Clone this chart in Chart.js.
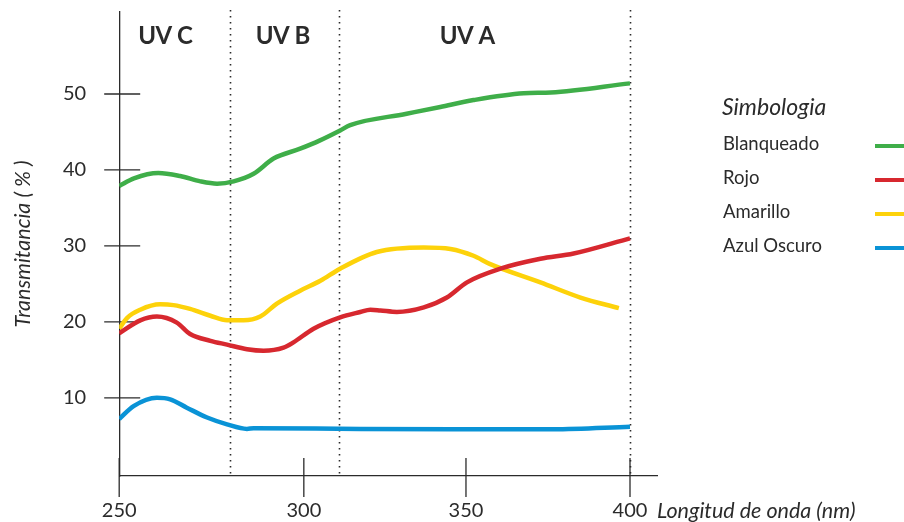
<!DOCTYPE html>
<html>
<head>
<meta charset="utf-8">
<script src="https://cdn.jsdelivr.net/npm/chart.js@4.4.1/dist/chart.umd.min.js"></script>
<style>
  html, body { margin: 0; padding: 0; background: #fff; }
</style>
</head>
<body>
<canvas id="chart" width="904" height="522"></canvas>
<script>
// axis ticks and UV bands (nm)
const xTicks = [250, 300, 350, 400];
const yTicks = [10, 20, 30, 40, 50];
const bandEdges = [280, 311, 400];
const bandNames = ['UV C', 'UV B', 'UV A'];
const bandLabelAt = [262.5, 294.3, 350.4];

// the printed axis is not evenly spaced: where each stop sits along it (0..1)
const xStops = [250, 300, 350, 400, 408.2];
const xStopFrac = [0, 0.3433, 0.6448, 0.9498, 1];

const blanqueadoNm = [250, 254, 260.6, 266.5, 272, 276.5, 281, 286.4, 291.8, 299, 305, 311.2, 314.3, 331.7, 342.1, 352.3, 367.6, 375.9, 400];
const blanqueadoPct = [37.9, 38.9, 39.6, 39.2, 38.5, 38.2, 38.5, 39.5, 41.5, 42.8, 43.9, 45.2, 45.9, 47.4, 48.3, 49.2, 50.1, 50.2, 51.4];

const rojoNm = [250, 255.7, 260.2, 265.6, 269.2, 274.7, 279.2, 284.6, 289.1, 294.5, 297.2, 303, 311.2, 317.4, 320.5, 323.6, 328.7, 337, 344.1, 350.3, 360.5, 372.7, 382.8, 400];
const rojoPct = [18.5, 20.2, 20.7, 19.9, 18.4, 17.5, 17.0, 16.4, 16.2, 16.6, 17.3, 19.1, 20.6, 21.3, 21.6, 21.5, 21.3, 21.9, 23.2, 25.2, 27.0, 28.3, 29.0, 31.0];

const amarilloNm = [250, 252.1, 255.7, 261.1, 264.7, 269.2, 274.7, 279.2, 283.7, 288.2, 292.7, 299, 305.1, 311.2, 322.5, 337, 345.2, 352.3, 357.4, 372.7, 384.9, 396.6];
const amarilloPct = [19.1, 20.5, 21.6, 22.3, 22.2, 21.7, 20.8, 20.2, 20.2, 20.7, 22.4, 24.1, 25.4, 27.0, 29.2, 29.8, 29.6, 28.7, 27.6, 25.2, 23.2, 21.8];

const azulNm = [250, 253.9, 260.2, 263.8, 268.3, 273.8, 279.2, 284.6, 286.4, 317.4, 346, 376.6, 400];
const azulPct = [7.2, 8.9, 10.0, 9.8, 8.7, 7.4, 6.5, 5.9, 6.0, 5.9, 5.87, 5.87, 6.2];

const FONT = 'Lato, "Open Sans", sans-serif';
const INK = '#2b2b2b';

class BentScale extends Chart.LinearScale {
  getPixelForValue(value) {
    if (value === null || value === undefined || isNaN(value)) return NaN;
    let i = 0;
    while (i < xStops.length - 2 && value > xStops[i + 1]) i++;
    const t = (value - xStops[i]) / (xStops[i + 1] - xStops[i]);
    return this.getPixelForDecimal(xStopFrac[i] + t * (xStopFrac[i + 1] - xStopFrac[i]));
  }
  getValueForPixel(pixel) {
    const f = this.getDecimalForPixel(pixel);
    let i = 0;
    while (i < xStopFrac.length - 2 && f > xStopFrac[i + 1]) i++;
    const t = (f - xStopFrac[i]) / (xStopFrac[i + 1] - xStopFrac[i]);
    return xStops[i] + t * (xStops[i + 1] - xStops[i]);
  }
}
BentScale.id = 'bent';
BentScale.defaults = {};
Chart.register(BentScale);

function series(label, color, nm, pct) {
  return {
    label: label,
    data: nm.map((v, i) => ({ x: v, y: pct[i] })),
    borderColor: color,
    backgroundColor: color,
    borderWidth: 4.5,
    pointRadius: 0,
    cubicInterpolationMode: 'monotone',
    fill: false
  };
}

const decorations = {
  id: 'decorations',
  beforeDatasetsDraw(chart) {
    const { ctx, chartArea: a, scales: { x, y } } = chart;
    ctx.save();
    ctx.strokeStyle = INK;
    ctx.lineWidth = 1.6;
    ctx.setLineDash([1.6, 4.4]);
    bandEdges.forEach(v => {
      const px = Math.round(x.getPixelForValue(v)) + 0.5;
      ctx.beginPath(); ctx.moveTo(px, a.top - 2); ctx.lineTo(px, a.bottom); ctx.stroke();
    });
    ctx.setLineDash([]);
    ctx.lineWidth = 1.3;
    // tick marks crossing the axes
    xTicks.forEach(v => {
      const px = x.getPixelForValue(v);
      ctx.beginPath(); ctx.moveTo(px, a.bottom + 21); ctx.lineTo(px, a.bottom - 18); ctx.stroke();
    });
    yTicks.forEach(v => {
      const py = y.getPixelForValue(v);
      ctx.beginPath(); ctx.moveTo(a.left - 15, py); ctx.lineTo(a.left + 21, py); ctx.stroke();
    });
    ctx.restore();
  },
  afterDraw(chart) {
    const { ctx, chartArea: a, scales: { x } } = chart;
    ctx.save();
    ctx.fillStyle = INK;
    ctx.textBaseline = 'middle';

    ctx.font = 'bold 24px ' + FONT;
    ctx.textAlign = 'center';
    ctx.letterSpacing = '-0.5px';
    bandNames.forEach((n, i) => ctx.fillText(n, x.getPixelForValue(bandLabelAt[i]), a.top + 24));
    ctx.letterSpacing = '0px';

    // axis titles
    ctx.font = 'italic 21.5px ' + FONT;
    ctx.textAlign = 'left';
    ctx.fillText('Longitud de onda (nm)', a.right, a.bottom + 35);
    ctx.save();
    ctx.translate(23, 244);
    ctx.rotate(-Math.PI / 2);
    ctx.textAlign = 'center';
    ctx.fillText('Transmitancia ( % )', 0, 0);
    ctx.restore();

    // legend
    const lx = 723, top = 108, step = 34;
    ctx.font = 'italic 23px ' + FONT;
    ctx.fillText('Simbologia', lx - 1, top);
    ctx.font = '18.5px ' + FONT;
    chart.data.datasets.forEach((ds, i) => {
      const cy = top + 36 + i * step;
      ctx.fillStyle = INK;
      ctx.fillText(ds.label, lx, cy);
      ctx.strokeStyle = ds.borderColor;
      ctx.lineWidth = 4;
      ctx.beginPath(); ctx.moveTo(875, cy + 2); ctx.lineTo(904, cy + 2); ctx.stroke();
    });
    ctx.restore();
  }
};

new Chart(document.getElementById('chart'), {
  type: 'line',
  data: {
    datasets: [
      series('Blanqueado', '#3fae49', blanqueadoNm, blanqueadoPct),
      series('Rojo', '#d7282f', rojoNm, rojoPct),
      series('Amarillo', '#fdd20a', amarilloNm, amarilloPct),
      series('Azul Oscuro', '#0a93d6', azulNm, azulPct)
    ]
  },
  options: {
    responsive: false,
    animation: false,
    devicePixelRatio: 1,
    layout: { padding: { left: 63, right: 247, top: 0, bottom: -1 } },
    plugins: { legend: { display: false }, tooltip: { enabled: false } },
    scales: {
      x: {
        type: 'bent',
        min: 250,
        max: 408.2,
        bounds: 'data',
        afterBuildTicks: s => { s.ticks = xTicks.map(v => ({ value: v })); },
        grid: { display: true, drawOnChartArea: false, drawTicks: true, tickLength: 23, tickColor: 'rgba(0,0,0,0)' },
        border: { display: true, color: INK, width: 1.3 },
        ticks: { color: INK, font: { family: FONT, size: 20 }, padding: 0, maxRotation: 0 }
      },
      y: {
        type: 'linear',
        min: -0.3,
        max: 60.8,
        bounds: 'data',
        afterBuildTicks: s => { s.ticks = yTicks.map(v => ({ value: v })); },
        grid: { display: true, drawOnChartArea: false, drawTicks: true, tickLength: 33, tickColor: 'rgba(0,0,0,0)' },
        border: { display: true, color: INK, width: 1.3 },
        ticks: { color: INK, font: { family: FONT, size: 20 }, padding: 0 }
      }
    }
  },
  plugins: [decorations]
});
</script>
</body>
</html>
